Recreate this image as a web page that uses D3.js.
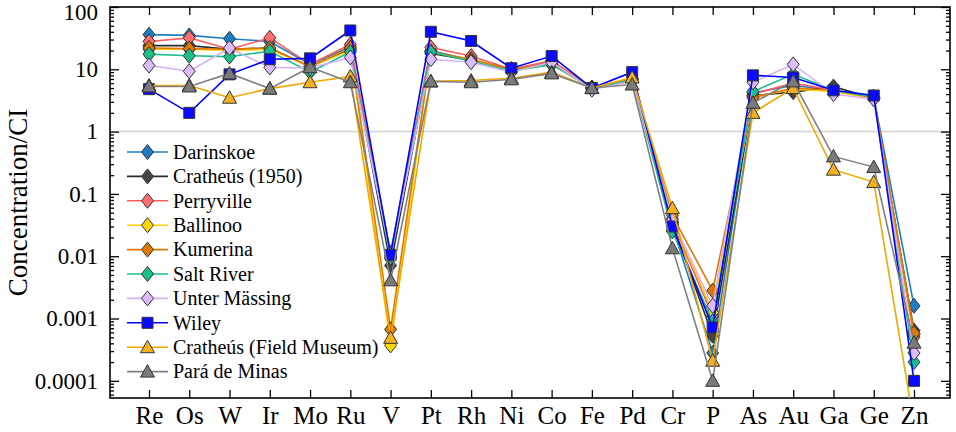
<!DOCTYPE html>
<html>
<head>
<meta charset="utf-8">
<script src="https://cdn.jsdelivr.net/npm/d3@7"></script>
<style>
  html, body { margin: 0; padding: 0; background: #fff; }
  svg text { font-family: "Liberation Serif", "DejaVu Serif", "Noto Serif", "Times New Roman", Times, serif !important; }
</style>
</head>
<body>
<svg id="chart" width="956" height="432"></svg>
<script>
// ---------- data ----------
const categories = ["Re","Os","W","Ir","Mo","Ru","V","Pt","Rh","Ni","Co","Fe","Pd","Cr","P","As","Au","Ga","Ge","Zn"];

const seriesNames = ["Darinskoe","Cratheús (1950)","Perryville","Ballinoo","Kumerina","Salt River","Unter Mässing","Wiley","Cratheús (Field Museum)","Pará de Minas"];

const darinskoe    = [36, 35, 31, 28, 12, 23, 0.0115, 20, 14, 10, 13, 5.1, 7, 0.03, 0.00028, 4.2, 5.5, 4.6, 3.6, 0.0016];
const cratheus1950 = [24, 24, 21, 22, 11, 21, 0.0071, 18, 14, 9.5, 12, 5.0, 6.5, 0.033, 0.00053, 3.8, 4.3, 5.3, 3.4, 0.00064];
const perryville   = [28, 32, 21, 32, 12, 25, 0.0096, 22.5, 16.3, 10, 13.8, 5.1, 7, 0.035, 0.0011, 4, 6, 4.6, 3.5, 0.0005];
const ballinoo     = [21, 21, 20, 21, 11, 20, 0.00037, 19, 14, 9.5, 12, 5, 7.2, 0.04, 0.00125, 3.6, 4.8, 4.4, 3.4, 0.00055];
const kumerina     = [22, 21.5, 21, 22, 11, 22, 0.00067, 19, 14.5, 10, 12.5, 5, 7, 0.045, 0.0028, 3.5, 5, 4.6, 3.5, 0.00058];
const saltRiver    = [17.5, 16.5, 16, 19.5, 9, 19, 0.0095, 19, 13.5, 9.4, 12, 5, 6.8, 0.025, 0.0009, 4.4, 8.3, 4.6, 3.6, 0.0002];
const unterMassing = [11.5, 9.3, 22, 10.7, 10.5, 15.5, 0.0105, 14.5, 13, 9, 13, 4.7, 6.5, 0.038, 0.0016, 6.2, 12, 4.0, 3.3, 0.00028];
const wiley        = [4.8, 2.0, 8.3, 14.5, 15, 42, 0.0105, 40, 28.5, 10.4, 16.3, 5, 9, 0.03, 0.00072, 8, 7.4, 4.6, 3.8, 0.0001];
const cratheusFM   = [5.5, 5.5, 3.5, 4.9, 6.2, 7.7, 0.00049, 6.4, 6.6, 7.2, 9, 5, 7.4, 0.059, 0.00021, 2.0, 5, 0.245, 0.155, 0.00002];
const paraDeMinas  = [5.3, 5.3, 8.6, 4.9, 10.8, 6.2, 0.0041, 6.4, 6.2, 6.9, 8.6, 5, 5.7, 0.0134, 0.0001, 2.9, 6.4, 0.40, 0.27, 0.00041];

const yTickValues = [0.0001, 0.001, 0.01, 0.1, 1, 10, 100];
const yTickLabels = ["0.0001", "0.001", "0.01", "0.1", "1", "10", "100"];

// ---------- styles ----------
const seriesValues = [darinskoe, cratheus1950, perryville, ballinoo, kumerina, saltRiver, unterMassing, wiley, cratheusFM, paraDeMinas];
const lineColors   = ["#1f7dc4", "#2b2b2b", "#ff5a5a", "#ffd000", "#e07800", "#19c08c", "#d6b0f5", "#0000ff", "#f0a800", "#808080"];
const fillColors   = ["#1f7dc4", "#454545", "#ff6e6e", "#ffd700", "#e07800", "#19c08c", "#dcbcf8", "#0a0aff", "#f5b020", "#7a7a7a"];
const shapes       = ["diamond","diamond","diamond","diamond","diamond","diamond","diamond","square","triangle","triangle"];

const L = 110, R = 950, T = 7, B = 398;

const svg = d3.select("#chart");

const x = d3.scalePoint().domain(categories).range([149, 914]);
const y = d3.scaleLog().domain([5.3e-5, 100]).range([B, T]);

svg.append("defs").append("clipPath").attr("id", "plotclip")
  .append("rect").attr("x", L).attr("y", T).attr("width", R - L).attr("height", B - T);

// gridline at 1
svg.append("line")
  .attr("x1", L).attr("x2", R).attr("y1", y(1)).attr("y2", y(1))
  .attr("stroke", "#d4d4d4").attr("stroke-width", 1.5);

// axes
const minorVals = [];
for (let e = -5; e <= 1; e++) {
  for (let m = 2; m <= 9; m++) {
    const v = m * Math.pow(10, e);
    if (v >= 5.3e-5 && v <= 100) minorVals.push(v);
  }
}
const fmtY = v => yTickLabels[yTickValues.indexOf(v)];

const gL = svg.append("g").attr("transform", `translate(${L},0)`)
  .call(d3.axisLeft(y).tickValues(yTickValues).tickFormat(fmtY).tickSize(-9).tickPadding(12));
const gLm = svg.append("g").attr("transform", `translate(${L},0)`)
  .call(d3.axisLeft(y).tickValues(minorVals).tickFormat("").tickSize(-4));
const gR = svg.append("g").attr("transform", `translate(${R},0)`)
  .call(d3.axisRight(y).tickValues(yTickValues).tickFormat("").tickSize(-9));
const gRm = svg.append("g").attr("transform", `translate(${R},0)`)
  .call(d3.axisRight(y).tickValues(minorVals).tickFormat("").tickSize(-4));
const gB = svg.append("g").attr("transform", `translate(0,${B})`)
  .call(d3.axisBottom(x).tickSize(-8).tickPadding(8));
const gT = svg.append("g").attr("transform", `translate(0,${T})`)
  .call(d3.axisTop(x).tickFormat("").tickSize(-8));

[gL, gLm, gR, gRm, gB, gT].forEach(g => {
  g.attr("font-family", null);
  g.select(".domain").remove();
  g.selectAll(".tick line").attr("stroke", "#000").attr("stroke-width", 1.3);
});
gL.selectAll("text").attr("font-size", 23).attr("fill", "#000")
  .attr("dy", d => d === 100 ? "0.56em" : "0.32em");
gB.selectAll("text").attr("font-size", 25).attr("fill", "#000");

// frame
svg.append("rect").attr("x", L).attr("y", T).attr("width", R - L).attr("height", B - T)
  .attr("fill", "none").attr("stroke", "#000").attr("stroke-width", 1.6);

// y label
svg.append("text")
  .attr("transform", `translate(27,${(T + B) / 2}) rotate(-90)`)
  .attr("text-anchor", "middle")
  .attr("font-size", 27)
  .attr("fill", "#000")
  .text("Concentration/CI");

function markerPath(shape) {
  if (shape === "diamond") return "M0,-7.5L6,0L0,7.5L-6,0Z";
  if (shape === "square") return "M-5.5,-5.5H5.5V5.5H-5.5Z";
  return "M0,-7L7,5.5H-7Z";
}

// series
const plot = svg.append("g").attr("clip-path", "url(#plotclip)");
const line = d3.line().x((d, i) => x(categories[i])).y(d => y(d));

seriesNames.forEach((name, s) => {
  const vals = seriesValues[s];
  const g = plot.append("g");
  g.append("path").datum(vals).attr("d", line)
    .attr("fill", "none").attr("stroke", lineColors[s]).attr("stroke-width", 1.6);
  g.selectAll("path.m").data(vals).join("path").attr("class", "m")
    .attr("transform", (d, i) => `translate(${x(categories[i])},${y(d)})`)
    .attr("d", markerPath(shapes[s]))
    .attr("fill", fillColors[s]).attr("stroke", "#333").attr("stroke-width", 1);
});

// legend
const legend = svg.append("g");
const legY0 = 152, legDY = 24.4;
seriesNames.forEach((name, s) => {
  const gy = legY0 + s * legDY;
  legend.append("line").attr("x1", 127).attr("x2", 168).attr("y1", gy).attr("y2", gy)
    .attr("stroke", lineColors[s]).attr("stroke-width", 1.6);
  legend.append("path").attr("transform", `translate(147.5,${gy})`).attr("d", markerPath(shapes[s]))
    .attr("fill", fillColors[s]).attr("stroke", "#333").attr("stroke-width", 1);
  legend.append("text").attr("x", 173).attr("y", gy).attr("dy", "0.34em")
    .attr("font-size", 20).attr("fill", "#000").text(name);
});
</script>
</body>
</html>
